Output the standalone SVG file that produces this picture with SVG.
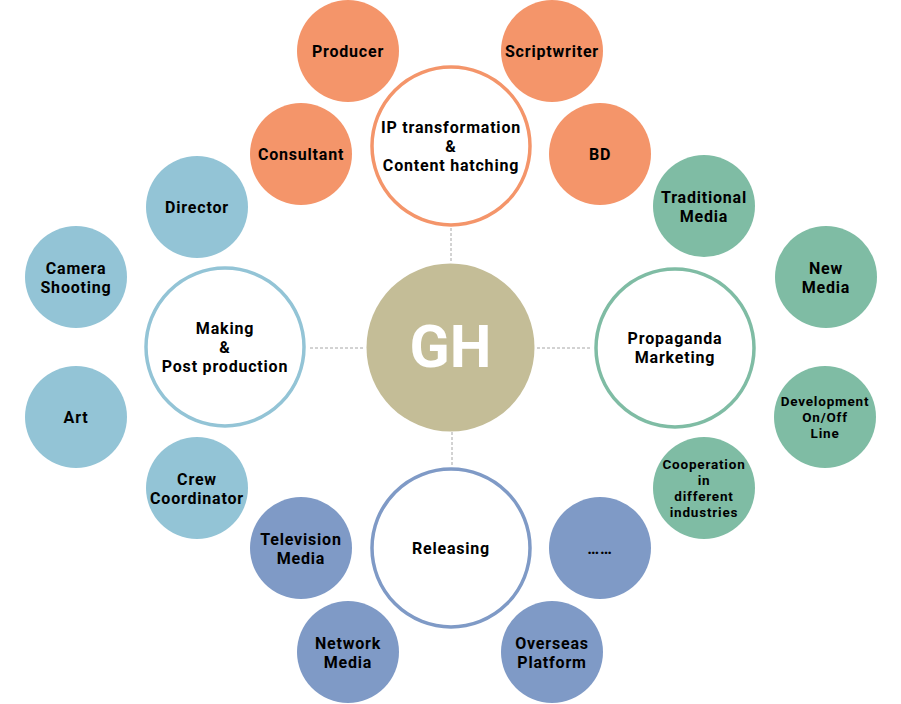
<svg xmlns="http://www.w3.org/2000/svg" width="901" height="704" viewBox="0 0 901 704">
<style>
text{font-family:Roboto,"Liberation Sans",sans-serif;font-weight:bold;fill:#000;text-anchor:middle;dominant-baseline:central}
.t{font-size:16px;letter-spacing:0.8px}
.s{font-size:13.5px;letter-spacing:0.8px}
.o{fill:#F4956A}
.b{fill:#93C4D6}
.g{fill:#7FBCA4}
.p{fill:#7F9AC6}
.ring{fill:#fff;stroke-width:3.5}
.con{stroke:#A6A6A6;stroke-width:1;stroke-dasharray:3,2;fill:none}
</style>
<rect width="901" height="704" fill="#fff"/>
<g id="connectors">
<line class="con" x1="451" y1="228" x2="451" y2="263"/>
<line class="con" x1="310" y1="348" x2="363" y2="348"/>
<line class="con" x1="537" y1="348" x2="590" y2="348"/>
<line class="con" x1="452" y1="432" x2="452" y2="467"/>
</g>
<g id="gh"><circle cx="450.5" cy="347.5" r="84" fill="#C4BD97"/><text x="450.5" y="346" style="font-size:59px;fill:#fff">GH</text></g>
<g id="ip"><circle class="ring" cx="451" cy="146" r="79" stroke="#F4956A"/><text class="t" x="451" y="127">IP transformation<tspan x="451" dy="19">&amp;</tspan><tspan x="451" dy="19">Content hatching</tspan></text></g>
<g id="making"><circle class="ring" cx="225" cy="347" r="79" stroke="#93C4D6"/><text class="t" x="225" y="328">Making<tspan x="225" dy="19">&amp;</tspan><tspan x="225" dy="19">Post production</tspan></text></g>
<g id="propaganda"><circle class="ring" cx="675" cy="348" r="79" stroke="#7FBCA4"/><text class="t" x="675" y="338">Propaganda<tspan x="675" dy="19">Marketing</tspan></text></g>
<g id="releasing"><circle class="ring" cx="451" cy="548" r="79" stroke="#7F9AC6"/><text class="t" x="451" y="548">Releasing</text></g>

<g id="producer"><circle class="o" cx="348" cy="51" r="51"/><text class="t" x="348" y="51">Producer</text></g>
<g id="scriptwriter"><circle class="o" cx="552" cy="51" r="51"/><text class="t" x="552" y="51">Scriptwriter</text></g>
<g id="consultant"><circle class="o" cx="301" cy="154" r="51"/><text class="t" x="301" y="154">Consultant</text></g>
<g id="bd"><circle class="o" cx="600" cy="154" r="51"/><text class="t" x="600" y="154">BD</text></g>

<g id="director"><circle class="b" cx="197" cy="207" r="51"/><text class="t" x="197" y="207">Director</text></g>
<g id="camera"><circle class="b" cx="76" cy="277" r="51"/><text class="t" x="76" y="268">Camera<tspan x="76" dy="19">Shooting</tspan></text></g>
<g id="art"><circle class="b" cx="76" cy="417" r="51"/><text class="t" x="76" y="417">Art</text></g>
<g id="crew"><circle class="b" cx="197" cy="488" r="51"/><text class="t" x="197" y="479">Crew<tspan x="197" dy="19">Coordinator</tspan></text></g>

<g id="traditional"><circle class="g" cx="704" cy="206" r="51"/><text class="t" x="704" y="197">Traditional<tspan x="704" dy="19">Media</tspan></text></g>
<g id="newmedia"><circle class="g" cx="826" cy="277" r="51"/><text class="t" x="826" y="268">New<tspan x="826" dy="19">Media</tspan></text></g>
<g id="development"><circle class="g" cx="825" cy="417" r="51"/><text class="s" x="825" y="401">Development<tspan x="825" dy="16">On/Off</tspan><tspan x="825" dy="16">Line</tspan></text></g>
<g id="cooperation"><circle class="g" cx="704" cy="488" r="51"/><text class="s" x="704" y="464">Cooperation<tspan x="704" dy="16">in</tspan><tspan x="704" dy="16">different</tspan><tspan x="704" dy="16">industries</tspan></text></g>

<g id="television"><circle class="p" cx="301" cy="548" r="51"/><text class="t" x="301" y="539">Television<tspan x="301" dy="19">Media</tspan></text></g>
<g id="dots"><circle class="p" cx="600" cy="548" r="51"/><text class="t" x="600" y="548">……</text></g>
<g id="network"><circle class="p" cx="348" cy="652" r="51"/><text class="t" x="348" y="643">Network<tspan x="348" dy="19">Media</tspan></text></g>
<g id="overseas"><circle class="p" cx="552" cy="652" r="51"/><text class="t" x="552" y="643">Overseas<tspan x="552" dy="19">Platform</tspan></text></g>
</svg>
